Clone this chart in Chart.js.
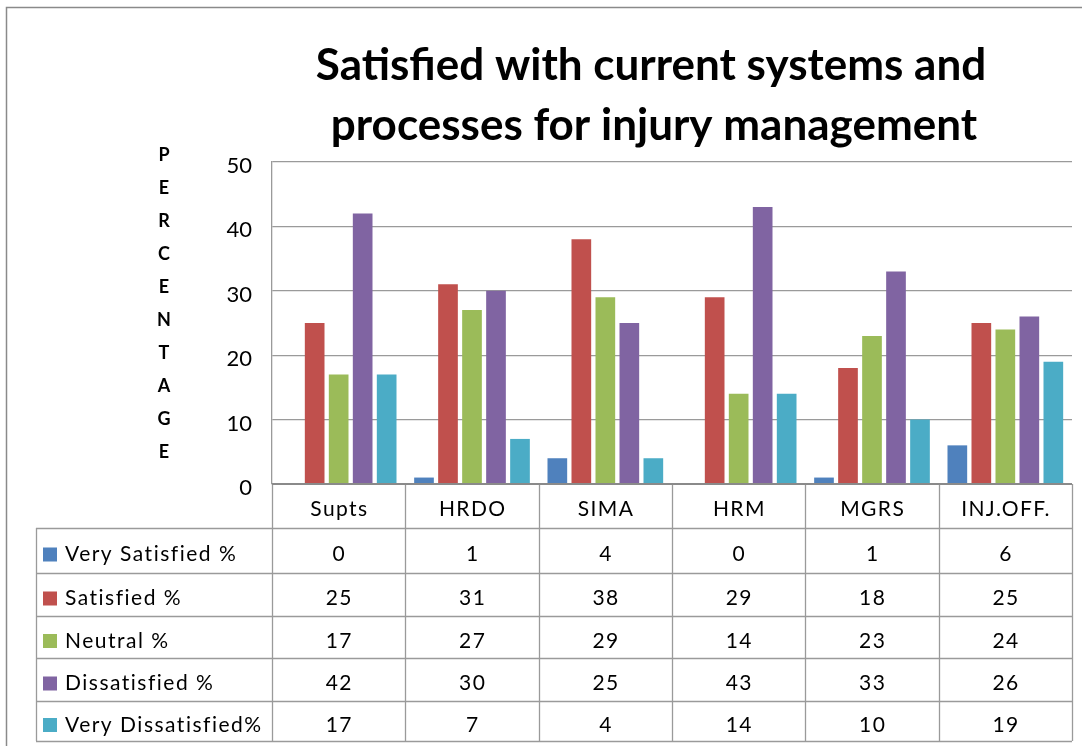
<!DOCTYPE html>
<html>
<head>
<meta charset="utf-8">
<script src="https://cdn.jsdelivr.net/npm/chart.js@4/dist/chart.umd.min.js"></script>
<style>
html,body{margin:0;padding:0;background:#fff;}
#wrap{width:1082px;height:746px;position:relative;}
</style>
</head>
<body>
<div id="wrap"><canvas id="c" width="1082" height="746"></canvas></div>
<script>
const categories = ["Supts", "HRDO", "SIMA", "HRM", "MGRS", "INJ.OFF."];
const seriesNames = ["Very Satisfied %", "Satisfied %", "Neutral %", "Dissatisfied %", "Very Dissatisfied%"];
const verySatisfied = [0, 1, 4, 0, 1, 6];
const satisfied = [25, 31, 38, 29, 18, 25];
const neutral = [17, 27, 29, 14, 23, 24];
const dissatisfied = [42, 30, 25, 43, 33, 26];
const veryDissatisfied = [17, 7, 4, 14, 10, 19];
const yTicks = [0, 10, 20, 30, 40, 50];
const titleLines = ["Satisfied with current systems and", "processes for injury management"];
const axisTitle = "PERCENTAGE";
const colors = ["#4F81BD", "#C0504D", "#9BBB59", "#8064A2", "#4BACC6"];
const seriesValues = [verySatisfied, satisfied, neutral, dissatisfied, veryDissatisfied];

const FONT = "Lato, 'Open Sans', sans-serif";
const LINE = "#9a9a9a";

function spacedText(ctx, text, x, y, align, spacing) {
  ctx.letterSpacing = spacing + "px";
  const w = ctx.measureText(text).width - spacing;
  let sx = x;
  if (align === "center") sx = x - w / 2;
  else if (align === "right") sx = x - w;
  ctx.textAlign = "left";
  ctx.fillText(text, sx, y);
  ctx.letterSpacing = "0px";
}

const tablePlugin = {
  id: "tablePlugin",
  afterDraw(chart) {
    const ctx = chart.ctx;
    const area = chart.chartArea;
    const x = chart.scales.x;
    const n = categories.length;
    const catW = (area.right - area.left) / n;
    const rows = [528, 573, 616, 658, 701, 741];
    const legendLeft = 36;
    ctx.save();
    // outer border
    ctx.strokeStyle = "#8a8a8a";
    ctx.lineWidth = 1.5;
    ctx.strokeRect(6.5, 7.5, 1200, 1200);
    // title
    ctx.fillStyle = "#000";
    ctx.font = "bold 44px " + FONT;
    ctx.textBaseline = "middle";
    spacedText(ctx, titleLines[0], 651, 66, "center", 0);
    spacedText(ctx, titleLines[1], 654, 126, "center", 0);
    // vertical axis title
    ctx.font = "bold 18px " + FONT;
    for (let i = 0; i < axisTitle.length; i++) {
      spacedText(ctx, axisTitle[i], 164, 155 + i * 33, "center", 0);
    }
    // table lines
    ctx.strokeStyle = LINE;
    ctx.lineWidth = 1.3;
    ctx.beginPath();
    for (let i = 0; i <= n; i++) {
      const xx = Math.round(area.left + i * catW) + 0.5;
      ctx.moveTo(xx, area.bottom);
      ctx.lineTo(xx, rows[rows.length - 1]);
    }
    ctx.moveTo(legendLeft + 0.5, rows[0]);
    ctx.lineTo(legendLeft + 0.5, rows[rows.length - 1]);
    for (let r = 0; r < rows.length; r++) {
      ctx.moveTo(legendLeft, rows[r] + 0.5);
      ctx.lineTo(area.right, rows[r] + 0.5);
    }
    ctx.stroke();
    // zero line
    ctx.strokeStyle = "#8a8a8a";
    ctx.lineWidth = 2;
    ctx.beginPath();
    ctx.moveTo(area.left, area.bottom);
    ctx.lineTo(area.right, area.bottom);
    ctx.stroke();
    // category labels
    ctx.fillStyle = "#000";
    ctx.font = "21px " + FONT;
    ctx.textBaseline = "middle";
    for (let i = 0; i < n; i++) {
      const cx = x.getPixelForValue(i);
      spacedText(ctx, categories[i], cx, 509, "center", 1.4);
    }
    // rows
    for (let s = 0; s < seriesNames.length; s++) {
      const cy = (rows[s] + rows[s + 1]) / 2 + 4;
      ctx.fillStyle = colors[s];
      ctx.fillRect(43, cy - 7, 14, 14);
      ctx.fillStyle = "#000";
      spacedText(ctx, seriesNames[s], 65, cy, "left", 1.5);
      for (let i = 0; i < n; i++) {
        spacedText(ctx, String(seriesValues[s][i]), x.getPixelForValue(i), cy, "center", 1.4);
      }
    }
    ctx.restore();
  }
};

new Chart(document.getElementById("c"), {
  type: "bar",
  data: {
    labels: categories,
    datasets: seriesNames.map((name, i) => ({
      label: name,
      data: seriesValues[i],
      backgroundColor: colors[i],
      borderWidth: 0,
      categoryPercentage: 0.9,
      barPercentage: 0.82
    }))
  },
  options: {
    responsive: false,
    animation: false,
    layout: { padding: { left: 0, top: 162, right: 10, bottom: 262 } },
    plugins: { legend: { display: false }, title: { display: false }, tooltip: { enabled: false } },
    scales: {
      x: { display: false },
      y: {
        min: 0, max: 50,
        afterFit(scale) { scale.width = 272; },
        afterBuildTicks(scale) { scale.ticks = yTicks.map(v => ({ value: v })); },
        grid: { color: LINE, lineWidth: 1.3, drawTicks: false },
        border: { display: true, color: LINE, width: 1.3 },
        ticks: { color: "#000", font: { family: FONT, size: 22 }, padding: 20, labelOffset: 4 }
      }
    }
  },
  plugins: [tablePlugin]
});
</script>
</body>
</html>
